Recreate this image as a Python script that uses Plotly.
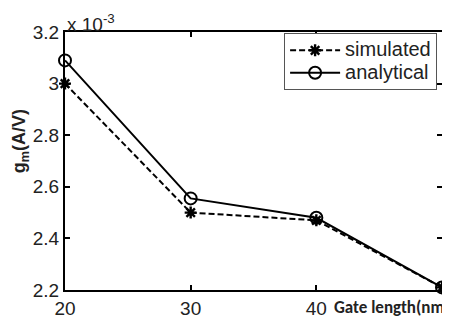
import plotly.graph_objects as go

gate_length = [20, 30, 40, 50]
simulated = [3.00e-3, 2.50e-3, 2.47e-3, 2.21e-3]
analytical = [3.09e-3, 2.555e-3, 2.48e-3, 2.21e-3]
series_names = ["simulated", "analytical"]
x_ticks = [20, 30, 40]
y_ticks = [2.2, 2.4, 2.6, 2.8, 3.0, 3.2]
y_tick_labels = ["2.2", "2.4", "2.6", "2.8", "3", "3.2"]

scale = 1e3
FONT = "Liberation Sans, Arial, sans-serif"
FS = 19


def legend_name(s):
    return '<span style="font-size:20px">' + s + "</span>"


# The page body has an 8px margin, so the figure is 442x312 and sits at (8, 8).
fig = go.Figure()
fig.add_trace(go.Scatter(
    x=gate_length, y=[v * scale for v in simulated], name=legend_name(series_names[0]),
    mode="lines+markers", cliponaxis=False,
    line=dict(color="black", width=2, dash="6px,3px"),
    marker=dict(symbol="asterisk-open", size=10, color="black", line=dict(width=2.4, color="black")),
))
fig.add_trace(go.Scatter(
    x=gate_length, y=[v * scale for v in analytical], name=legend_name(series_names[1]),
    mode="lines+markers", cliponaxis=False,
    line=dict(color="black", width=2),
    marker=dict(symbol="circle-open", size=12, color="black", line=dict(width=2, color="black")),
))

fig.update_layout(
    width=442, height=312,
    margin=dict(l=57, r=8, t=24, b=30),
    paper_bgcolor="white", plot_bgcolor="white",
    font=dict(family=FONT, size=FS, color="#222"),
    showlegend=True,
    legend=dict(
        x=0.987, y=0.996, xanchor="right", yanchor="top",
        bordercolor="#555", borderwidth=1, bgcolor="white",
        font=dict(size=15, family=FONT, color="#222"),
        tracegroupgap=0, itemwidth=50,
    ),
)
fig.update_xaxes(
    range=[20, 50], tickvals=x_ticks, ticktext=[str(t) for t in x_ticks],
    showgrid=False, zeroline=False, showline=True, linecolor="black", linewidth=2,
    mirror="ticks", ticks="inside", ticklen=5, tickwidth=1.5, tickcolor="black",
    tickfont=dict(size=FS, family=FONT, color="#222"), automargin=False,
)
fig.update_yaxes(
    range=[2.2, 3.2], tickvals=y_ticks, ticktext=y_tick_labels,
    showgrid=False, zeroline=False, showline=True, linecolor="black", linewidth=2,
    mirror="ticks", ticks="inside", ticklen=5, tickwidth=1.5, tickcolor="black",
    tickfont=dict(size=FS, family=FONT, color="#222"), automargin=False,
)

fig.add_annotation(
    xref="paper", yref="paper", x=0.0, y=1.0, xanchor="left", yanchor="bottom",
    text="x 10<sup>-3</sup>", showarrow=False,
    font=dict(size=FS, family=FONT, color="#222"), yshift=-5,
)
fig.add_annotation(
    xref="paper", yref="paper", x=-0.119, y=0.577, xanchor="center", yanchor="middle",
    text="<b>g<sub>m</sub>(A/V)</b>", textangle=-90, showarrow=False,
    font=dict(size=18, family=FONT, color="#222"),
)
fig.add_annotation(
    xref="paper", yref="paper", x=0.709, y=0, xanchor="left", yanchor="top",
    text="<b>Gate length(nm)</b>", showarrow=False, yshift=-5,
    font=dict(size=17, family="Carlito, Liberation Sans, sans-serif", color="#222"),
)

fig.write_html("out.html")
